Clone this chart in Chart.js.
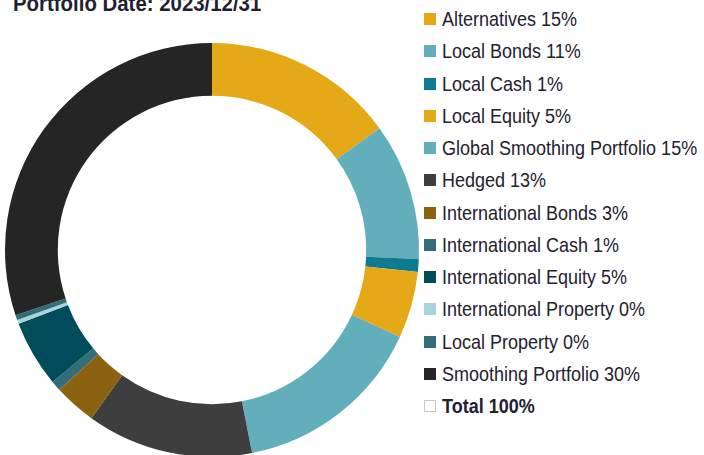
<!DOCTYPE html>
<html>
<head>
<meta charset="utf-8">
<script src="https://cdn.jsdelivr.net/npm/chart.js"></script>
<style>
  html, body { margin: 0; padding: 0; background: #fff; overflow: hidden; }
  body { width: 704px; height: 455px; position: relative; font-family: "Liberation Sans", Arial, sans-serif; }
  #title { position: absolute; left: 13px; top: -6px; font-size: 20px; line-height: 20px; font-weight: bold; color: #1f2130; white-space: nowrap; transform: scale(1.02, 1.1); transform-origin: 0 17px; }
  #chartBox { position: absolute; left: 0; top: 0; }
  #legend { position: absolute; left: 424px; top: 0; }
  .item { position: absolute; left: 0; height: 20px; white-space: nowrap; font-size: 18px; line-height: 20px; color: #1f2130; }
  .box { position: absolute; left: 0; top: 4px; width: 12px; height: 12px; box-sizing: border-box; }
  .txt { position: absolute; left: 18px; top: 0; transform: scaleY(1.13); transform-origin: 0 10px; }
</style>
</head>
<body>
<div id="title">Portfolio Date: 2023/12/31</div>
<div id="chartBox"><canvas id="donut" width="424" height="460"></canvas></div>
<div id="legend"></div>
<script>
const labels = ["Alternatives", "Local Bonds", "Local Cash", "Local Equity", "Global Smoothing Portfolio",
  "Hedged", "International Bonds", "International Cash", "International Equity",
  "International Property", "Local Property", "Smoothing Portfolio"];
const values = [15.0, 10.7, 1.0, 5.2, 15.0, 13.0, 3.3, 0.8, 5.2, 0.3, 0.4, 30.1];
const colors = ["#e5a817", "#63aebb", "#0e7c8e", "#e5a817", "#63aebb",
  "#3e3e3e", "#8b6210", "#336e78", "#004c5a", "#a8d4de", "#336e78", "#252525"];
const totalLabel = "Total 100%";

// legend
const legend = document.getElementById("legend");
const rowStep = 32.25;
labels.forEach((name, i) => {
  const row = document.createElement("div");
  row.className = "item";
  row.style.top = (9 + i * rowStep) + "px";
  row.innerHTML = `<div class="box" style="background:${colors[i]}"></div><div class="txt">${name} ${Math.round(values[i])}%</div>`;
  legend.appendChild(row);
});
const totalRow = document.createElement("div");
totalRow.className = "item";
totalRow.style.top = (9 + labels.length * rowStep) + "px";
totalRow.innerHTML = `<div class="box" style="background:#fff;border:1px solid #c8c8c8"></div><div class="txt" style="font-weight:bold">${totalLabel}</div>`;
legend.appendChild(totalRow);

// doughnut
new Chart(document.getElementById("donut"), {
  type: "doughnut",
  data: {
    labels: labels,
    datasets: [{
      data: values,
      backgroundColor: colors,
      borderWidth: 0
    }]
  },
  options: {
    responsive: false,
    animation: false,
    cutout: "74.5%",
    layout: { padding: { left: 5, right: 5, top: 43, bottom: 3 } },
    plugins: {
      legend: { display: false },
      tooltip: { enabled: false }
    }
  }
});
</script>
</body>
</html>
